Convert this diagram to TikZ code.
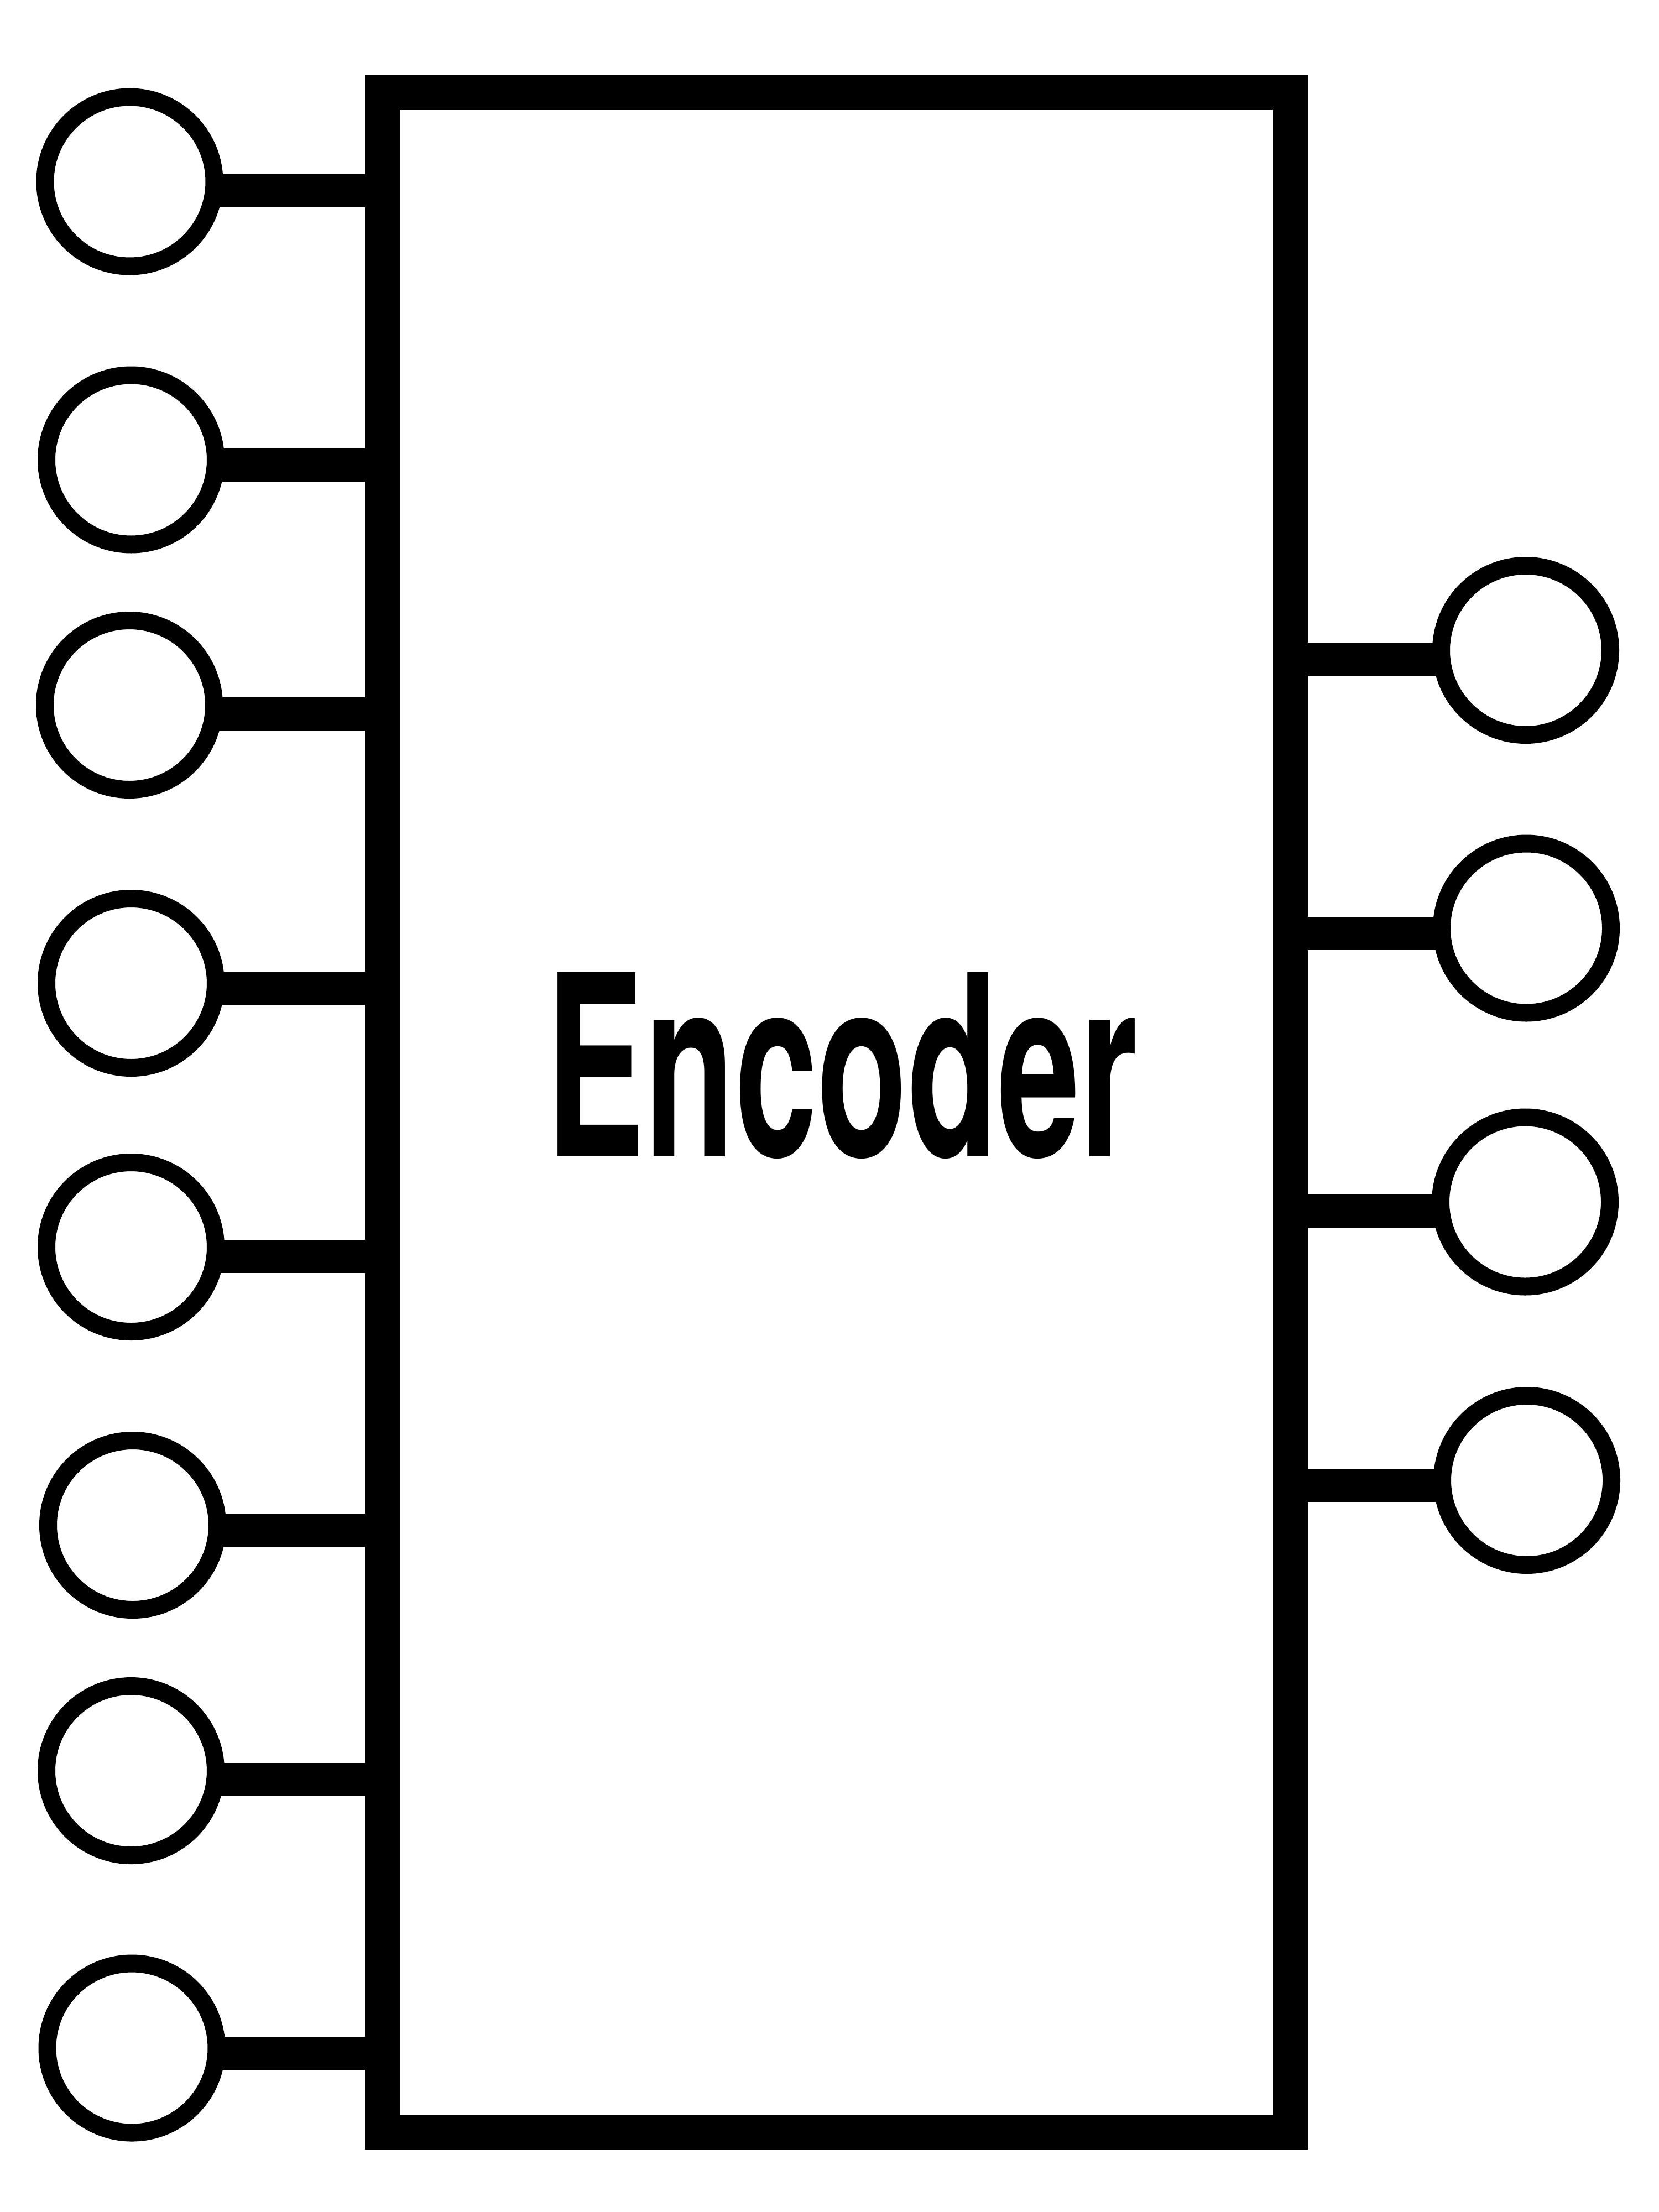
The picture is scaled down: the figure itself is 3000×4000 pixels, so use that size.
\documentclass[tikz,border=0pt]{standalone}
\usepackage{fontspec}
\setmainfont{TeX Gyre Heros}
\begin{document}
\begin{tikzpicture}[x=0.1mm, y=-0.1mm,
        encbox/.style={draw, line width=0.63cm, minimum width=16.42cm, minimum height=36.88cm, inner sep=0, outer sep=0},
        port/.style={circle, draw, fill=white, line width=0.32cm, minimum size=3.06cm, inner sep=0, outer sep=0},
        pin/.style={line width=0.6cm},
        title/.style={anchor=base west, inner sep=0, font=\fontsize{130}{130}\selectfont\bfseries}]
            \useasboundingbox (0, 0) rectangle (3000, 4000);
            \node [encbox] (enc) at (1512.5, 2011) {};
            \node [title] (name) at (987, 2091) {\scalebox{0.585}[1]{Encoder}};
            % inputs
            \node [port] (in1) at (234.5, 328.5) {};
            \node [port] (in2) at (237, 831.5) {};
            \node [port] (in3) at (234, 1275) {};
            \node [port] (in4) at (237, 1778) {};
            \node [port] (in5) at (237, 2255) {};
            \node [port] (in6) at (240, 2758) {};
            \node [port] (in7) at (237, 3202) {};
            \node [port] (in8) at (238.5, 3703.5) {};
            % outputs
            \node [port] (out1) at (2759, 1176) {};
            \node [port] (out2) at (2760, 1678.5) {};
            \node [port] (out3) at (2758, 2173.5) {};
            \node [port] (out4) at (2761, 2677) {};
            \coordinate (a1) at (0, 345);
            \coordinate (a2) at (0, 841);
            \coordinate (a3) at (0, 1291);
            \coordinate (a4) at (0, 1787);
            \coordinate (a5) at (0, 2271.5);
            \coordinate (a6) at (0, 2766.5);
            \coordinate (a7) at (0, 3218);
            \coordinate (a8) at (0, 3713);
            \coordinate (b1) at (0, 1192);
            \coordinate (b2) at (0, 1687.5);
            \coordinate (b3) at (0, 2190);
            \coordinate (b4) at (0, 2686);
            \draw [pin] (in1.east |- a1) -- (enc.west |- a1);
            \draw [pin] (in2.east |- a2) -- (enc.west |- a2);
            \draw [pin] (in3.east |- a3) -- (enc.west |- a3);
            \draw [pin] (in4.east |- a4) -- (enc.west |- a4);
            \draw [pin] (in5.east |- a5) -- (enc.west |- a5);
            \draw [pin] (in6.east |- a6) -- (enc.west |- a6);
            \draw [pin] (in7.east |- a7) -- (enc.west |- a7);
            \draw [pin] (in8.east |- a8) -- (enc.west |- a8);
            \draw [pin] (enc.east |- b1) -- (out1.west |- b1);
            \draw [pin] (enc.east |- b2) -- (out2.west |- b2);
            \draw [pin] (enc.east |- b3) -- (out3.west |- b3);
            \draw [pin] (enc.east |- b4) -- (out4.west |- b4);
        \end{tikzpicture}
\end{document}
